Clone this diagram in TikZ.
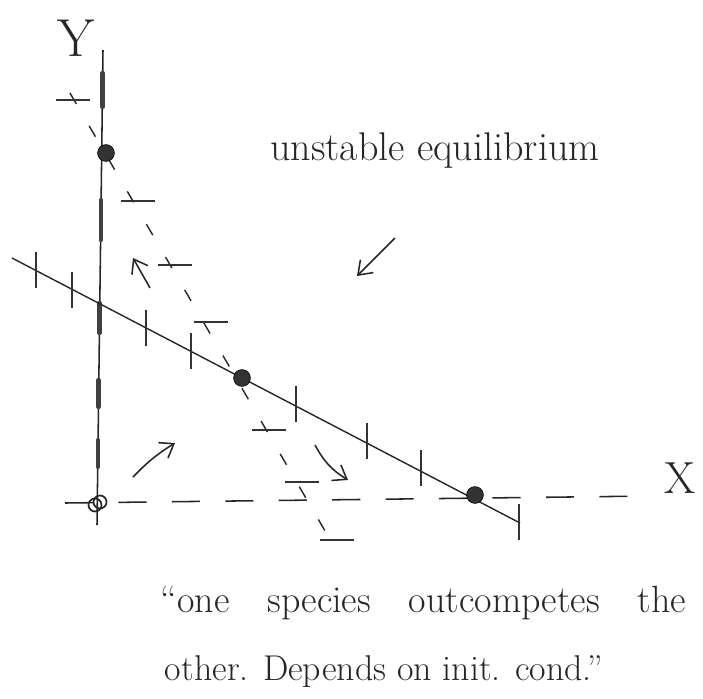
\documentclass[tikz,border=0pt]{standalone}
\usetikzlibrary{arrows.meta, calc}
\begin{document}
\begin{tikzpicture}[
      x=0.025cm, y=-0.025cm,
      axisline/.style={line width=1.1pt, black!85},
      nullcline/.style={line width=1pt, black!85},
      tickmark/.style={line width=1.4pt, black!80},
      thickseg/.style={line width=3pt, black!75, line cap=round},
      flow/.style={-{Straight Barb[length=9pt, width=13pt]}, line width=1.1pt, black!85},
      eqpt/.style={circle, fill=black!80, draw=black, inner sep=0pt, minimum size=12pt},
      hand/.style={font=\fontsize{26}{30}\selectfont, text=black!85}
  ]
  \useasboundingbox (0,0) rectangle (703,698);

  % ==============================
  % axes
  % ==============================
  \coordinate (ytop) at (103,50);
  \coordinate (ybot) at (97,525);
  \draw[axisline] (ytop) -- (ybot);
  \foreach \xa/\ya/\yb in {102.5/73/107, 100.8/200/240, 99.6/303/333, 98.6/380/407, 97.9/440/467}
      \draw[thickseg] (\xa,\ya) -- (\xa,\yb);

  \coordinate (xleft) at (65,503);
  \coordinate (xright) at (652,496);
  \draw[axisline, dash pattern=on 20pt off 18pt] (xleft) -- (xright);

  \node[hand, font=\fontsize{38}{40}\selectfont] (ylabel) at (76,38) {Y};
  \node[hand, font=\fontsize{32}{36}\selectfont] (xlabel) at (680,478) {X};

  % ==============================
  % nullclines
  % ==============================
  \coordinate (solidA) at (12,258);
  \coordinate (solidB) at (520,523);
  \draw[nullcline] (solidA) -- (solidB);
  \foreach \x/\y in {36/270, 72/290, 146/328, 191/351, 296/404, 367/441, 421/468, 519/522}
      \draw[tickmark] (\x,\y-18) -- (\x,\y+18);

  \coordinate (dashA) at (70,93);
  \coordinate (dashB) at (335,548);
  \draw[nullcline, dash pattern=on 9pt off 18pt] (dashA) -- (dashB);
  \foreach \x/\y in {73/100, 138/201, 175/265, 211/322, 269/430, 302/482, 337/540}
      \draw[tickmark] (\x-17,\y) -- (\x+17,\y);

  % ==============================
  % equilibria
  % ==============================
  \node[eqpt] (eqy) at (106,153) {};
  \node[eqpt] (eqmid) at (242,378) {};
  \node[eqpt] (eqx) at (475,495) {};
  \draw[line width=1.2pt, black!85] (95,505) circle (6.5);
  \draw[line width=1.2pt, black!85] (100,502) circle (6.5);

  % ==============================
  % flow arrows
  % ==============================
  \coordinate (f1s) at (150,288);
  \coordinate (f1e) at (133,258);
  \draw[flow] (f1s) -- (f1e);

  \coordinate (f2s) at (395,238);
  \coordinate (f2e) at (357,276);
  \draw[flow] (f2s) -- (f2e);

  \coordinate (f3s) at (133,477);
  \coordinate (f3e) at (175,443);
  \draw[flow] (f3s) to[bend left=7] (f3e);

  \coordinate (f4s) at (315,445);
  \coordinate (f4e) at (348,480);
  \draw[flow] (f4s) to[bend right=15] (f4e);

  % ==============================
  % texts
  % ==============================
  \node[hand, font=\fontsize{28.5}{32}\selectfont] (unstable) at (435,150) {unstable equilibrium};
  \node[hand, font=\fontsize{27}{32}\selectfont, anchor=base west] (line1) at (156,612)
      {\spaceskip=1em\relax ``one species outcompetes the};
  \node[hand, font=\fontsize{25.5}{30}\selectfont, anchor=base west] (line2) at (160,680)
      {other. Depends on init. cond.''};

\end{tikzpicture}
\end{document}
